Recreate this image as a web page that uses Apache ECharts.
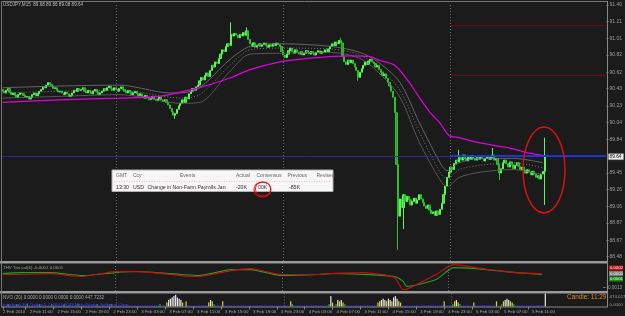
<!DOCTYPE html>
<html><head><meta charset="utf-8">
<script src="https://cdn.jsdelivr.net/npm/echarts@6/dist/echarts.min.js"></script>
<style>html,body{margin:0;padding:0;background:#1b1b1b}#c{width:625px;height:316px}</style>
</head><body><div id="c"></div>
<script>
// ---------- DATA ----------
const symbolText = 'USDJPY,M15  89.68 89.86 89.08 89.64';
const slotCount = 347;               // bar slots across the chart (last ones empty)
const startMinuteOfDay = 7 * 60 + 45; // first bar: 2 Feb 07:45
const startDay = 2;

const firstOpen = 90.42;
const closes = [
  90.40,90.38,90.41,90.43,90.39,90.36,90.38,90.35,90.33,90.36,90.38,
  90.37,90.35,90.33,90.34,90.31,90.33,90.36,90.38,90.35,90.37,90.40,
  90.42,90.45,90.44,90.47,90.50,90.48,90.46,90.43,90.44,90.41,90.39,90.40,
  90.38,90.36,90.39,90.37,90.34,90.35,90.38,90.41,90.40,90.43,90.41,
  90.42,90.44,90.40,90.38,90.41,90.39,90.37,90.40,90.42,90.39,90.36,90.38,
  90.40,90.43,90.41,90.44,90.46,90.43,90.41,90.44,90.42,
  90.40,90.43,90.45,90.42,90.40,90.38,90.41,90.39,90.36,90.38,90.40,90.37,90.35,90.37,
  90.34,90.32,90.35,90.33,90.30,90.32,90.34,90.31,90.29,90.31,90.33,90.30,90.28,90.30,90.27,
  90.24,90.20,90.16,90.12,90.14,90.19,90.23,
  90.26,90.30,90.27,90.33,90.31,90.37,90.40,
  90.43,90.41,90.45,90.47,90.52,
  90.56,90.53,90.58,90.61,90.57,90.64,
  90.70,90.68,90.74,90.72,90.78,90.83,
  90.88,90.86,90.92,90.95,90.93,
  91.06,
  91.04,91.07,91.05,91.02,91.06,91.04,91.08,91.05,91.10,
  91.00,90.95,90.92,90.96,90.91,
  90.93,90.95,90.92,90.94,90.96,90.93,90.91,90.94,90.92,90.95,90.93,90.96,90.94,90.92,
  90.86,90.82,90.79,90.83,
  90.87,90.90,90.86,90.84,90.88,90.85,90.83,90.86,90.82,90.84,90.87,90.85,90.83,90.86,90.84,90.82,90.85,90.87,90.84,90.86,90.85,90.88,90.86,90.89,
  90.92,90.95,90.93,90.97,90.95,90.99,
  90.96,
  90.80,90.74,90.71,90.76,90.73,
  90.76,90.72,90.68,90.64,90.56,90.62,90.66,90.70,90.74,90.71,90.75,
  90.77,90.74,90.72,90.68,90.70,90.65,
  90.62,90.58,90.60,90.55,90.50,90.46,
  90.40,90.33,90.15,
  89.55,88.95,89.15,89.05,89.20,
  89.12,89.18,89.14,89.08,89.12,89.16,89.10,89.14,89.20,89.15,89.11,
  89.07,89.04,89.08,
  89.02,88.98,89.00,88.96,89.01,88.97,89.03,
  89.10,89.20,89.30,89.40,89.46,89.52,89.49,
  89.56,89.60,89.58,89.63,89.60,89.66,89.62,89.59,89.64,89.61,89.65,89.62,89.60,89.63,89.61,89.64,89.62,89.59,89.62,89.64,89.61,
  89.63,89.66,89.60,89.62,89.55,89.45,89.50,89.57,
  89.60,89.56,89.52,89.58,89.55,89.50,89.54,89.57,89.53,89.49,89.52,
  89.48,89.45,89.49,89.46,89.43,89.47,89.44,89.40,89.42,89.38,
  89.44,89.47,89.64
];
const wickHighIdx = [131, 140, 194, 262, 281, 311];
const wickHighVal = [91.20, 91.14, 91.02, 89.72, 89.74, 89.86];
const wickLowIdx  = [99, 204, 227, 230, 285, 311];
const wickLowVal  = [90.08, 90.52, 88.56, 88.80, 89.37, 89.08];

// slow moving average (magenta)
const maIdx = [0,33,67,90,102,113,130,142,159,170,188,199,211,216,225,233,239,245,251,256,262,274,285,291,300,308,311];
const maVal = [90.27,90.30,90.32,90.34,90.39,90.44,90.55,90.65,90.74,90.77,90.80,90.81,90.80,90.76,90.70,90.51,90.33,90.16,90.03,89.89,89.86,89.80,89.76,89.74,89.69,89.66,89.65];

// grey envelope lines
const bandIdx   = [0,33,67,96,102,113,130,142,159,188,205,216,228,239,251,255,262,274,293,310];
const bandUpper = [90.44,90.46,90.47,90.38,90.38,90.44,90.76,90.92,90.95,90.92,90.85,90.73,90.50,90.04,89.57,89.48,89.57,89.62,89.62,89.57];
const bandMid   = [90.38,90.40,90.41,90.33,90.32,90.36,90.69,90.88,90.90,90.89,90.82,90.67,90.41,89.93,89.46,89.38,89.49,89.54,89.57,89.51];
const bandLower = [90.32,90.34,90.36,90.27,90.26,90.27,90.62,90.83,90.84,90.85,90.78,90.61,90.33,89.81,89.37,89.29,89.40,89.46,89.49,89.43];

// THV Trix sub-window
const trixIdx   = [0,10,27,46,65,78,103,113,132,143,161,182,189,208,226,231,233,250,260,273,285,296,311];
const trixRed   = [-0.00009,-0.00009,0,-0.00028,0.00019,0.00019,-0.00019,-0.00028,0.00028,0.00046,-0.00009,-0.00009,0,0.00009,-0.00037,-0.00152,-0.00149,-0.00009,0.00084,0.00056,0.00028,0.00009,0];
const trixGreen = [0,0.00009,0.00009,-0.00019,0.00009,0.00019,-0.00009,-0.00019,0.00037,0.00037,-0.00019,-0.00009,0,-0.00009,-0.00028,-0.00074,-0.00121,-0.00056,0.00056,0.00046,0.00028,0.00009,-0.00009];

// volume sub-window (relative tick volume)
const volume = [
  1,1,1,2,1,1,1,1,2,1, 1,1,1,1,2,1,1,1,1,1, 1,2,1,1,1,1,1,1,2,1, 1,1,1,1,1,2,1,1,1,1,
  1,1,1,2,1,1,1,1,1,1, 1,1,1,1,2,1,1,1,1,1, 1,1,2,1,1,1,1,1,1,1, 1,1,1,1,1,1,1,1,1,
  1,1,1,1,1,1,1,1,1,1,1,2,1,1,1,
  3,5,6,7,8,9,7,6,5,3,
  1,4,1,
  1,1,1,1,1,1,1,1,1,1,1,
  3,5,4,2,1,
  1,1,1,4,1,
  1,1,1,1,1,1,1,1,1,1, 1,1,1,1,1,1,1,1,1,1, 1,1,1,1,1,1,1,1,1,1, 1,1,1,1,1,1,1,
  4,2,
  1,1,1,1,1,1,1,1,1,1, 1,1,1,1,1,1,1,1,1,1,
  2,8,3,1,2,5,4,5,3,2,1,
  1,1,1,1,1,1,1,1,1,1, 1,1,1,1,1,1,1,
  3,4,5,6,5,4,6,5,4,7,8,6,4,3,
  1,1,1,1,1,1,1,1,1,1, 1,1,1,1,1,1,1,1,1,1, 1,1,1,1,
  4,
  1,1,1,1,2,
  4,5,3,2,
  1,1,1,1,1,1,1,
  3,1,
  1,1,1,1,1,1,1,1,1,1,
  1,4,
  1,1,2,
  4,5,6,5,4,3,2,
  1,1,1,1,1,1,1,1,1,1, 1,1,1,1,1,1,1,
  10
];

const bidPrice = 89.64;
const pivotLevels = [91.17, 90.59];
const daySeparators = ['3 Feb 00:00', '4 Feb 00:00', '5 Feb 00:00'];
const priceTicks = [88.48, 88.67, 88.87, 89.06, 89.26, 89.45, 89.84, 90.04, 90.23, 90.43, 90.62, 90.82, 91.01, 91.21, 91.40];
const trixTicks = [-0.0013];
const xTickCats  = ['2 Feb 07:45','2 Feb 11:00','2 Feb 15:00','2 Feb 19:00','2 Feb 23:00','3 Feb 03:00','3 Feb 07:00','3 Feb 11:00','3 Feb 15:00','3 Feb 19:00','3 Feb 23:00','4 Feb 03:00','4 Feb 07:00','4 Feb 11:00','4 Feb 15:00','4 Feb 19:00','4 Feb 23:00','5 Feb 03:00','5 Feb 07:00','5 Feb 11:00'];
const xTickTexts = ['2 Feb 2010','2 Feb 11:00','2 Feb 15:00','2 Feb 19:00','2 Feb 23:00','3 Feb 03:00','3 Feb 07:00','3 Feb 11:00','3 Feb 15:00','3 Feb 19:00','3 Feb 23:00','4 Feb 03:00','4 Feb 07:00','4 Feb 11:00','4 Feb 15:00','4 Feb 19:00','4 Feb 23:00','5 Feb 03:00','5 Feb 07:00','5 Feb 11:00'];

const trixTitle = 'THV Trix val(6) -0.0001 0.0001';
const trixBoxes = ['0.0002', '0.0000', '0.0001'];
const volTitle = 'NVO (20) 0.0000 0.0000 0.0000 0.0000 447.7232';
const copyright = 'Interbank FX Trader 4, \u00a9 2001-2009 MetaQuotes Software Corp.';
const volLabels = ['474.0272', '0.0000'];
const candleTimer = 'Candle: 11:29';

const newsHeader = ['GMT', 'Ccy', 'Events', 'Actual', 'Consensus', 'Previous', 'Revised'];
const newsRow = ['13:30', 'USD', 'Change in Non-Farm Payrolls Jan', '-20K', '00K', '-85K', ''];

// ---------- BUILD ----------
const categories = [];
for (let k = 0; k < slotCount; k++) {
  const t = startMinuteOfDay + 15 * k;
  const d = startDay + Math.floor(t / 1440), m = t % 1440;
  categories.push(d + ' Feb ' + String(Math.floor(m / 60)).padStart(2, '0') + ':' + String(m % 60).padStart(2, '0'));
}
const ohlc = closes.map((c, i) => {
  const o = i === 0 ? firstOpen : closes[i - 1];
  let hi = Math.max(o, c), lo = Math.min(o, c);
  const h = wickHighIdx.indexOf(i); if (h >= 0) hi = Math.max(hi, wickHighVal[h]);
  const l = wickLowIdx.indexOf(i); if (l >= 0) lo = Math.min(lo, wickLowVal[l]);
  return [o, c, lo, hi];
});
const pairs = (idx, vals) => idx.map((i, k) => [i, vals[k]]);
const lastCat = categories[slotCount - 1];

const FONT = 'Liberation Sans, Arial, sans-serif';
const L = 1.73, W = 605.5;
const G = [
  { left: L, width: W, top: 3, height: 258 },
  { left: L, width: W, top: 263.5, height: 27.5 },
  { left: L, width: W, top: 293.5, height: 13 }
];
const sepLines = (gi) => ({
  silent: true, symbol: ['none', 'none'], label: { show: false }, animation: false,
  lineStyle: { color: '#6a6a6a', type: [1, 2], width: 1 },
  data: daySeparators.map(d => ({ xAxis: d }))
});
const tickFn = (i, v) => xTickCats.indexOf(v) >= 0;

const mainMark = sepLines(0);
mainMark.data = mainMark.data.concat([
  { yAxis: bidPrice, lineStyle: { color: '#2c2c88', type: 'solid', width: 1 } },
  [{ coord: [daySeparators[2], bidPrice + 0.01], lineStyle: { color: '#1c3cff', type: 'solid', width: 1.5 } }, { coord: [lastCat, bidPrice + 0.01] }],
  ...pivotLevels.map(p => [{ coord: [daySeparators[2], p], lineStyle: { color: '#5e1212', type: 'solid', width: 1 } }, { coord: [lastCat, p] }])
]);

const volColor = v => v <= 1 ? '#2626d8' : v === 2 ? '#2aa82a' : v <= 4 ? '#d8d820' : '#e8e8e8';

const option = {
  backgroundColor: '#1b1b1b',
  animation: false,
  grid: G,
  xAxis: G.map((g, gi) => ({
    type: 'category', gridIndex: gi, data: categories, boundaryGap: true,
    axisLine: { show: false },
    axisTick: gi === 2 ? { show: true, interval: tickFn, alignWithLabel: true, length: 3, lineStyle: { color: '#8a8a8a' } } : { show: false },
    axisLabel: gi === 2 ? {
      show: true, interval: tickFn, align: 'left', margin: 3,
      formatter: (v) => { const k = xTickCats.indexOf(v); return (k === 0 ? '{f|' : '{t|') + xTickTexts[k] + '}'; },
      rich: { t: { padding: [0, 0, 0, 4], fontSize: 4.4, color: '#a8a8a8', fontFamily: FONT },
              f: { padding: [0, 0, 0, 0], fontSize: 4.4, color: '#a8a8a8', fontFamily: FONT } }
    } : { show: false },
    splitLine: { show: false }
  })),
  yAxis: [
    { gridIndex: 0, type: 'value', position: 'right', min: 88.43, max: 91.423,
      axisLine: { show: false },
      axisTick: { show: true, customValues: priceTicks, length: 2, lineStyle: { color: '#8a8a8a' } },
      axisLabel: { show: true, customValues: priceTicks, formatter: v => v.toFixed(2), fontSize: 5, color: '#9c9c9c', fontFamily: FONT, margin: 3 },
      splitLine: { show: false } },
    { gridIndex: 1, type: 'value', position: 'right', min: -0.00165, max: 0.00095,
      axisLine: { show: false },
      axisTick: { show: true, customValues: trixTicks, length: 2, lineStyle: { color: '#8a8a8a' } },
      axisLabel: { show: true, customValues: trixTicks, formatter: v => v.toFixed(4), fontSize: 4.6, color: '#9c9c9c', fontFamily: FONT, margin: 3 },
      splitLine: { show: false } },
    { gridIndex: 2, type: 'value', position: 'right', min: 0, max: 10,
      axisLine: { show: false }, axisTick: { show: false }, axisLabel: { show: false }, splitLine: { show: false } }
  ],
  series: [
    { type: 'candlestick', xAxisIndex: 0, yAxisIndex: 0, data: ohlc, barWidth: 1.7, z: 2,
      itemStyle: { color: '#36e036', color0: '#22aa22', borderColor: '#5cf55c', borderColor0: '#2cc02c', borderWidth: 1 },
      markLine: mainMark },
    { type: 'line', xAxisIndex: 0, yAxisIndex: 0, data: pairs(bandIdx, bandUpper), showSymbol: false, smooth: 0.3, z: 3,
      lineStyle: { color: '#767676', width: 0.8 } },
    { type: 'line', xAxisIndex: 0, yAxisIndex: 0, data: pairs(bandIdx, bandMid), showSymbol: false, smooth: 0.3, z: 3,
      lineStyle: { color: '#8e8e8e', width: 0.8, type: [1, 2] } },
    { type: 'line', xAxisIndex: 0, yAxisIndex: 0, data: pairs(bandIdx, bandLower), showSymbol: false, smooth: 0.3, z: 3,
      lineStyle: { color: '#666666', width: 0.8 } },
    { type: 'line', xAxisIndex: 0, yAxisIndex: 0, data: pairs(maIdx, maVal), showSymbol: false, smooth: 0.3, z: 4,
      lineStyle: { color: '#dd00dd', width: 1.3 } },
    { type: 'line', xAxisIndex: 1, yAxisIndex: 1, data: pairs(trixIdx, trixGreen), showSymbol: false, smooth: 0.2,
      lineStyle: { color: '#22a022', width: 1.1 }, markLine: sepLines(1) },
    { type: 'line', xAxisIndex: 1, yAxisIndex: 1, data: pairs(trixIdx, trixRed), showSymbol: false, smooth: 0.2,
      lineStyle: { color: '#c41010', width: 1.2 } },
    { type: 'bar', xAxisIndex: 2, yAxisIndex: 2, data: volume.map(v => ({ value: v, itemStyle: { color: volColor(v) } })),
      barWidth: 1.2, markLine: sepLines(2) }
  ]
};

const chart = echarts.init(document.getElementById('c'), null, { renderer: 'canvas', width: 625, height: 316 });
chart.setOption(option);

const bidY = chart.convertToPixel({ yAxisIndex: 0 }, bidPrice);
const txt = (x, y, s, fill, size, extra) => Object.assign({ type: 'text', x: x, y: y, silent: true, z: 100,
  style: { text: s, fill: fill, fontSize: size, fontFamily: FONT, textVerticalAlign: 'middle' } }, extra || {});
const newsX = [116, 133, 180, 236, 256.5, 287.5, 316.5];
const newsRowX = [116, 133, 147.5, 236, 258, 289, 316.5];

const graphics = [
  // panel borders and separators
  { type: 'rect', silent: true, z: 50, shape: { x: 1.5, y: 1.5, width: 606, height: 260 }, style: { fill: 'none', stroke: '#767676', lineWidth: 1 } },
  { type: 'rect', silent: true, z: 50, shape: { x: 0, y: 261, width: 608, height: 2.5 }, style: { fill: '#9a9a9a' } },
  { type: 'rect', silent: true, z: 50, shape: { x: 0, y: 291, width: 608, height: 2.5 }, style: { fill: '#9a9a9a' } },
  { type: 'line', silent: true, z: 50, shape: { x1: 1, y1: 307, x2: 608, y2: 307 }, style: { stroke: '#8a8a8a', lineWidth: 1 } },
  { type: 'line', silent: true, z: 50, shape: { x1: 607.5, y1: 1, x2: 607.5, y2: 307 }, style: { stroke: '#8a8a8a', lineWidth: 1 } },
  { type: 'line', silent: true, z: 50, shape: { x1: 1.5, y1: 262, x2: 1.5, y2: 307 }, style: { stroke: '#767676', lineWidth: 1 } },
  // titles
  txt(3, 5, symbolText, '#bdbdbd', 4.6),
  txt(3, 267.5, trixTitle, '#a0a0a0', 4.4),
  txt(3, 298, volTitle, '#a8a8a8', 4.6),
  txt(3, 304.5, copyright, '#4646e6', 4.4),
  txt(567, 297.5, candleTimer, '#e08a1e', 6.4),
  // right side boxes
  { type: 'rect', silent: true, z: 90, shape: { x: 609, y: 265.5, width: 14, height: 5 }, style: { fill: '#c01414' } },
  { type: 'rect', silent: true, z: 90, shape: { x: 609, y: 271, width: 14, height: 5 }, style: { fill: '#7c7c7c' } },
  { type: 'rect', silent: true, z: 90, shape: { x: 609, y: 276.5, width: 14, height: 5 }, style: { fill: '#1e8a1e' } },
  txt(610, 268, trixBoxes[0], '#f0f0f0', 4.2),
  txt(610, 273.5, trixBoxes[1], '#f0f0f0', 4.2),
  txt(610, 279, trixBoxes[2], '#f0f0f0', 4.2),
  txt(609.5, 296.5, volLabels[0], '#9c9c9c', 4.4),
  txt(609.5, 305, volLabels[1], '#9c9c9c', 4.4),
  // bid price box
  { type: 'rect', silent: true, z: 90, shape: { x: 608.5, y: bidY - 3, width: 15, height: 6 }, style: { fill: '#ececec', stroke: '#9a9a9a', lineWidth: 0.5 } },
  txt(609.5, bidY, bidPrice.toFixed(2), '#111111', 4.8),
  // news table
  { type: 'rect', silent: true, z: 80, shape: { x: 112, y: 170, width: 221, height: 21.5 }, style: { fill: '#f6f6f6', stroke: '#b0b0b0', lineWidth: 1 } },
  { type: 'line', silent: true, z: 81, shape: { x1: 114, y1: 181.5, x2: 331, y2: 181.5 }, style: { stroke: '#e0a0a0', lineWidth: 0.6, lineDash: [1, 1.5] } },
  ...newsHeader.map((h, k) => txt(newsX[k], 176, h, '#666666', 5)),
  ...newsRow.map((h, k) => txt(newsRowX[k], 187.5, h, '#333333', 5.2)),
  // hand-drawn highlights
  { type: 'ellipse', silent: true, z: 95, shape: { cx: 262.5, cy: 189.5, rx: 8.5, ry: 7.5 }, style: { fill: 'none', stroke: '#e01010', lineWidth: 1.1 } },
  { type: 'ellipse', silent: true, z: 95, shape: { cx: 263, cy: 189, rx: 7.5, ry: 6.8 }, style: { fill: 'none', stroke: '#e01010', lineWidth: 0.9 } },
  { type: 'ellipse', silent: true, z: 95, shape: { cx: 544, cy: 170, rx: 21, ry: 43 }, style: { fill: 'none', stroke: '#e01010', lineWidth: 1.4 } }
];
chart.setOption({ graphic: graphics });
</script></body></html>
